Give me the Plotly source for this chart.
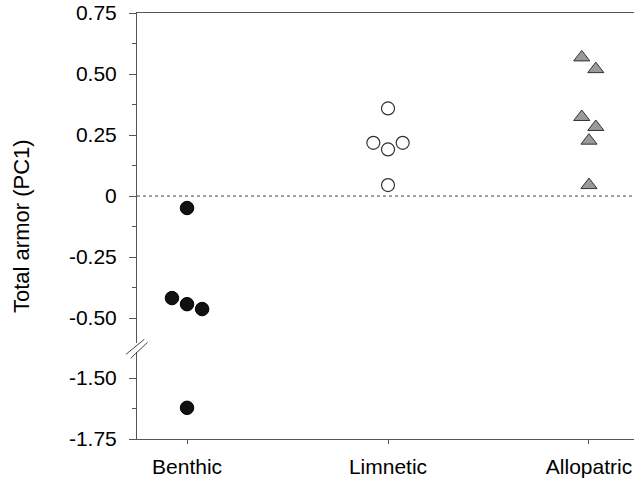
import plotly.graph_objects as go

categories = ["Benthic", "Limnetic", "Allopatric"]

benthic_upper = [-0.049, -0.418, -0.443, -0.463]
benthic_upper_jit = [0.0, -0.075, 0.0, 0.075]
benthic_lower = [-1.622]
benthic_lower_jit = [0.0]

limnetic = [0.359, 0.218, 0.191, 0.218, 0.045]
limnetic_jit = [0.0, -0.073, 0.0, 0.073, 0.0]

allopatric = [0.568, 0.520, 0.324, 0.283, 0.227, 0.045]
allopatric_jit = [-0.036, 0.034, -0.036, 0.034, 0.0, 0.0]

upper_tickvals = [-0.5, -0.25, 0, 0.25, 0.5, 0.75]
upper_ticktext = ["-0.50", "-0.25", "0", "0.25", "0.50", "0.75"]
upper_minor = [-0.375, -0.125, 0.125, 0.375, 0.625]
lower_tickvals = [-1.75, -1.5]
lower_ticktext = ["-1.75", "-1.50"]
lower_minor = [-1.625]

FONT = "Liberation Sans, Arial, sans-serif"
FS = 21
AX = "#555555"

fig = go.Figure()

def xs(idx, jit):
    return [idx + j for j in jit]

fig.add_trace(go.Scatter(x=xs(0, benthic_upper_jit), y=benthic_upper, mode="markers",
                         xaxis="x2", yaxis="y",
                         marker=dict(symbol="circle", size=13.5, color="#111111",
                                     line=dict(color="#000000", width=1))))
fig.add_trace(go.Scatter(x=xs(0, benthic_lower_jit), y=benthic_lower, mode="markers",
                         xaxis="x", yaxis="y2",
                         marker=dict(symbol="circle", size=13.5, color="#111111",
                                     line=dict(color="#000000", width=1))))
fig.add_trace(go.Scatter(x=xs(1, limnetic_jit), y=limnetic, mode="markers",
                         xaxis="x2", yaxis="y",
                         marker=dict(symbol="circle", size=13, color="white",
                                     line=dict(color="#333333", width=1.2))))
fig.add_trace(go.Scatter(x=xs(2, allopatric_jit), y=allopatric, mode="markers",
                         xaxis="x2", yaxis="y",
                         marker=dict(symbol="triangle-up", size=14, color="#9a9a9a",
                                     line=dict(color="#333333", width=1))))

xrange = [-0.249, 2.224]

fig.update_layout(
    width=634, height=482,
    margin=dict(l=137, r=0, t=13, b=43, autoexpand=False),
    paper_bgcolor="white", plot_bgcolor="white",
    showlegend=False,
    font=dict(family=FONT, size=FS, color="black"),
    xaxis=dict(domain=[0, 1], anchor="y2", range=xrange, automargin=False,
               tickmode="array", tickvals=[0, 1, 2], ticktext=categories,
               ticks="outside", ticklen=4, tickcolor=AX, showline=True,
               linecolor=AX, linewidth=1, showgrid=False, zeroline=False,
               ticklabelstandoff=5, tickfont=dict(size=FS)),
    xaxis2=dict(domain=[0, 1], anchor="y", matches="x", side="top", automargin=False,
                showline=True, linecolor=AX, linewidth=1, ticks="",
                showticklabels=False, showgrid=False, zeroline=False),
    yaxis=dict(domain=[0.2254, 1], anchor="x2", range=[-0.602, 0.75], automargin=False,
               tickmode="array", tickvals=upper_tickvals, ticktext=upper_ticktext,
               ticks="outside", ticklen=7, tickcolor=AX, showline=True,
               linecolor=AX, linewidth=1, showgrid=False, zeroline=False,
               minor=dict(tickmode="array", tickvals=upper_minor, ticks="outside",
                          ticklen=4, tickcolor=AX, showgrid=False),
               ticklabelstandoff=8, tickfont=dict(size=FS)),
    yaxis2=dict(domain=[0, 0.2042], anchor="x", range=[-1.75, -1.393], automargin=False,
                tickmode="array", tickvals=lower_tickvals, ticktext=lower_ticktext,
                ticks="outside", ticklen=7, tickcolor=AX, showline=True,
                linecolor=AX, linewidth=1, showgrid=False, zeroline=False,
                minor=dict(tickmode="array", tickvals=lower_minor, ticks="outside",
                           ticklen=4, tickcolor=AX, showgrid=False),
                ticklabelstandoff=8, tickfont=dict(size=FS)),
)

# dotted zero reference line
fig.add_shape(type="line", xref="x2 domain", yref="y", x0=0, x1=1, y0=0, y1=0,
              line=dict(color="#444444", width=1, dash="dot"))

# axis break marks
fig.add_shape(type="line", xref="paper", yref="paper", x0=-0.0221, y0=0.1988,
              x1=0.0147, y1=0.2340, line=dict(color="#444444", width=1))
fig.add_shape(type="line", xref="paper", yref="paper", x0=-0.0127, y0=0.1894,
              x1=0.0213, y1=0.2270, line=dict(color="#444444", width=1))

fig.add_annotation(text="Total armor (PC1)", xref="paper", yref="paper",
                   x=-0.2334, y=0.5, xanchor="center", yanchor="middle",
                   textangle=-90, showarrow=False,
                   font=dict(family=FONT, size=22, color="black"))

fig.write_html("out.html", config={"displayModeBar": False},
               post_script="document.body.style.margin='0';document.body.style.overflow='hidden';")
